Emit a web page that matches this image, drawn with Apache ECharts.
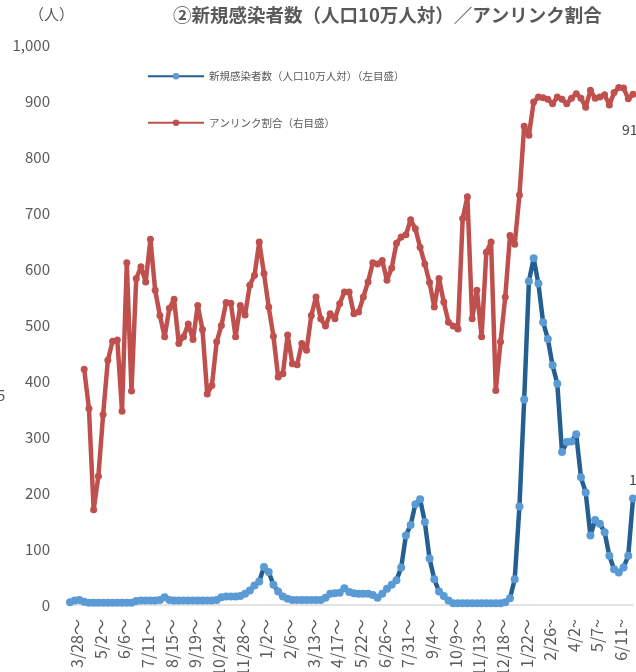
<!DOCTYPE html>
<html>
<head>
<meta charset="utf-8">
<script src="https://cdn.jsdelivr.net/npm/echarts@6/dist/echarts.min.js"></script>
<style>
html,body{margin:0;padding:0;background:#fff;}
#chart{width:636px;height:672px;}
</style>
</head>
<body>
<div id="chart"></div>
<script>
// Weekly categories (week starting), 2020/3/28 – 2022/7/9
var categories = [
"3/28～","4/4～","4/11～","4/18～","4/25～","5/2～","5/9～","5/16～","5/23～","5/30～",
"6/6～","6/13～","6/20～","6/27～","7/4～","7/11～","7/18～","7/25～","8/1～","8/8～",
"8/15～","8/22～","8/29～","9/5～","9/12～","9/19～","9/26～","10/3～","10/10～","10/17～",
"10/24～","10/31～","11/7～","11/14～","11/21～","11/28～","12/5～","12/12～","12/19～","12/26～",
"1/2～","1/9～","1/16～","1/23～","1/30～","2/6～","2/13～","2/20～","2/27～","3/6～",
"3/13～","3/20～","3/27～","4/3～","4/10～","4/17～","4/24～","5/1～","5/8～","5/15～",
"5/22～","5/29～","6/5～","6/12～","6/19～","6/26～","7/3～","7/10～","7/17～","7/24～",
"7/31～","8/7～","8/14～","8/21～","8/28～","9/4～","9/11～","9/18～","9/25～","10/2～",
"10/9～","10/16～","10/23～","10/30～","11/6～","11/13～","11/20～","11/27～","12/4～","12/11～",
"12/18～","12/25～","1/1～","1/8～","1/15～","1/22～","1/29～","2/5～","2/12～","2/19～",
"2/26~","3/5~","3/12~","3/19~","3/26~","4/2~","4/9~","4/16~","4/23~","4/30~",
"5/7~","5/14~","5/21~","5/28~","6/4~","6/11~","6/18~","6/25~","7/2~","7/9~"
];

// 新規感染者数（人口10万人対） — left axis
var newCases = [
5,8,9,6,4,4,4,4,4,4,
4,4,4,4,7,8,8,8,8,9,
14,9,8,8,8,8,8,8,8,8,
8,9,14,15,15,15,16,20,26,35,
42,68,59,36,24,15,11,9,9,9,
9,9,9,9,13,20,21,22,30,23,
21,20,20,20,18,13,20,29,36,44,
67,124,143,180,189,148,83,46,24,16,
8,3,3,3,3,3,3,3,3,3,
3,3,5,12,46,176,367,578,619,574,
505,475,428,395,273,291,292,305,228,201,
124,152,145,130,88,64,58,67,88,190
];

// アンリンク割合（%） — right axis
var unlinkedRate = [
null,null,null,42.1,35.1,17,23,34,43.7,47.1,
47.3,34.6,61.1,38.2,58.3,60.4,57.7,65.3,56.2,51.7,
47.9,53,54.6,46.7,47.9,50.2,47.4,53.5,49.2,37.7,
39.2,47,49.9,54,53.9,47.9,53.5,51.8,57.1,58.9,
64.8,59.2,53.2,48,40.7,41.3,48.2,43.1,42.9,46.7,
45.5,51.7,55,51.1,49.8,52,51.1,53.8,55.9,55.9,
52,52.3,55,57.7,61.1,60.9,61.5,58,60.2,64.6,
65.7,66.1,68.8,67.2,63.9,60.9,57.6,53.2,58.3,54.1,
50.5,49.8,49.3,69,72.9,51.1,56.2,47.9,63,64.8,
38.3,47,55,66,64.4,73.2,85.5,83.9,89.8,90.7,
90.6,90.3,89.5,90.7,90.3,89.5,90.5,91.3,90.5,88.9,
91.9,90.5,90.7,91.1,89.3,91.5,92.4,92.3,90.4,91.2
];

var seriesNames = ["新規感染者数（人口10万人対）（左目盛）", "アンリンク割合（右目盛）"];
var leftTicks = {min: 0, max: 1000, interval: 100};
var rightTicks = {min: 0, max: 100};

var FONT = '"Noto Sans CJK JP", "Noto Sans", sans-serif';

function withLastLabel(arr, labelOpt) {
  return arr.map(function (v, i) {
    if (i === arr.length - 1) {
      return {value: v, label: labelOpt};
    }
    return v;
  });
}

var chart = echarts.init(document.getElementById('chart'), null, {renderer: 'canvas'});
chart.setOption({
  animation: false,
  backgroundColor: '#ffffff',
  textStyle: {fontFamily: FONT},
  title: {
    text: '②新規感染者数（人口10万人対）／アンリンク割合',
    left: 168, top: 1,
    textStyle: {fontFamily: FONT, fontSize: 18.5, fontWeight: 'bold', color: '#595959'}
  },
  graphic: [
    {type: 'text', left: 29, top: 7, style: {text: '（人）', font: '15px ' + FONT, fill: '#595959'}},
    {type: 'text', left: -3, top: 388, style: {text: '5', font: '15px ' + FONT, fill: '#595959'}}
  ],
  legend: {
    orient: 'vertical',
    left: 142, top: 66,
    itemWidth: 56, itemHeight: 8, itemGap: 36,
    textStyle: {fontFamily: FONT, fontSize: 10.5, color: '#595959'},
    data: seriesNames
  },
  grid: {left: 70, right: 3, top: 45, bottom: 67, containLabel: false, outerBoundsMode: 'none'},
  xAxis: {
    type: 'category',
    boundaryGap: false,
    data: categories,
    axisLine: {lineStyle: {color: '#D9D9D9', width: 1.5}},
    axisTick: {show: false},
    axisLabel: {interval: 4, rotate: 90, fontSize: 16, color: '#595959', margin: 14,
      verticalAlign: 'top', lineHeight: 14, fontFamily: FONT},
    splitLine: {show: false}
  },
  yAxis: [
    {
      type: 'value', min: leftTicks.min, max: leftTicks.max, interval: leftTicks.interval,
      axisLine: {show: false}, axisTick: {show: false}, splitLine: {show: false},
      axisLabel: {fontSize: 15, color: '#595959', margin: 20, fontFamily: FONT,
        formatter: function (v) { return v.toLocaleString('en-US'); }}
    },
    {
      type: 'value', min: rightTicks.min, max: rightTicks.max, show: false,
      splitLine: {show: false}
    }
  ],
  series: [
    {
      name: seriesNames[0],
      type: 'line',
      yAxisIndex: 0,
      data: withLastLabel(newCases, {
        show: true, position: [0, -15], align: 'left', verticalAlign: 'middle',
        fontSize: 14, color: '#404040', fontFamily: FONT
      }),
      symbol: 'circle', symbolSize: 8,
      showSymbol: true, showAllSymbol: true,
      lineStyle: {color: '#255E91', width: 4.5},
      itemStyle: {color: '#5B9BD5', borderWidth: 0},
      z: 3
    },
    {
      name: seriesNames[1],
      type: 'line',
      yAxisIndex: 1,
      connectNulls: false,
      data: withLastLabel(unlinkedRate, {
        show: true, position: 'inside', align: 'left', verticalAlign: 'middle',
        offset: [-11, 35], fontSize: 14, color: '#404040', fontFamily: FONT
      }),
      symbol: 'circle', symbolSize: 7,
      showSymbol: true, showAllSymbol: true,
      lineStyle: {color: '#C0504D', width: 4.5},
      itemStyle: {color: '#C0504D', borderWidth: 0},
      z: 2
    }
  ]
});
</script>
</body>
</html>
